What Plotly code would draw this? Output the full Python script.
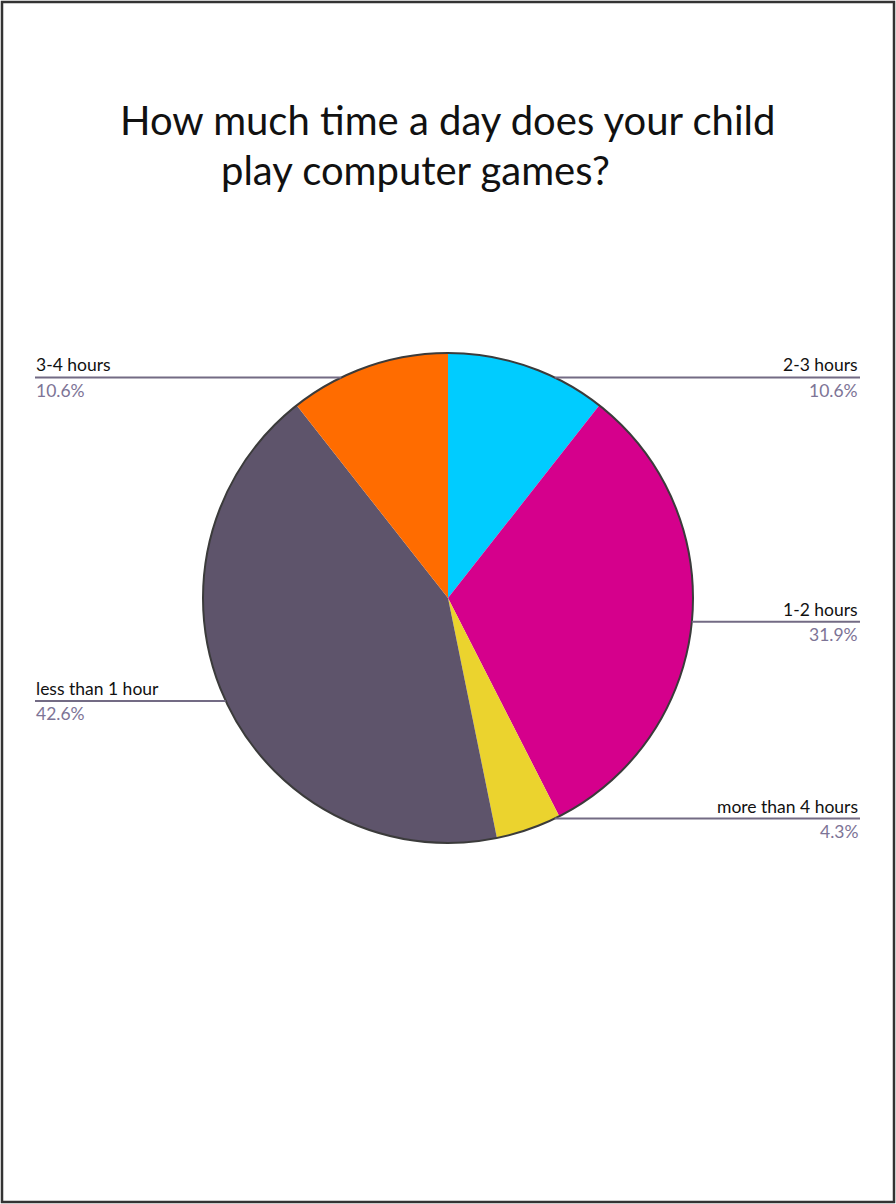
import math
import plotly.graph_objects as go

# ---- data ----
categories = ["2-3 hours", "1-2 hours", "more than 4 hours", "less than 1 hour", "3-4 hours"]
values = [10.6, 31.9, 4.3, 42.6, 10.6]
pct_labels = ["10.6%", "31.9%", "4.3%", "42.6%", "10.6%"]
colors = ["#00CCFF", "#D5008C", "#EBD32E", "#5E546B", "#FF6C00"]
title_lines = ["How much time a day does your child", "play computer games?"]

# ---- layout constants (pixels) ----
W, H = 896, 1204
cx, cy, r = 448, 598, 245
left_x, right_x = 35, 860
FONT = "Lato, 'Noto Sans', sans-serif"
LINE_COLOR = "#736b84"
PCT_COLOR = "#7d7496"

def px(x):
    return x / W

def py(y):
    return 1 - y / H

fig = go.Figure(go.Pie(
    labels=categories,
    values=values,
    sort=False,
    direction="clockwise",
    rotation=0,
    marker=dict(colors=colors, line=dict(width=0)),
    textinfo="none",
    hoverinfo="label+percent",
    showlegend=False,
    domain=dict(x=[px(cx - r), px(cx + r)], y=[py(cy + r), py(cy - r)]),
))

shapes = []
annotations = []

# outline circle around pie
shapes.append(dict(type="circle", xref="paper", yref="paper",
                   x0=px(cx - r), x1=px(cx + r), y0=py(cy + r), y1=py(cy - r),
                   line=dict(color="#3b3b3b", width=2)))

# leader lines and labels computed from slice mid-angles
total = sum(values)
cum = 0.0
for cat, v, pl in zip(categories, values, pct_labels):
    mid = (cum + v / 2) / total
    cum += v
    ang = 2 * math.pi * mid  # clockwise from 12 o'clock
    sx = math.sin(ang)
    dy = -math.cos(ang) * r
    lim = 0.9 * r
    dy = max(-lim, min(lim, dy))
    ly = cy + dy
    dx = math.sqrt(max(r * r - dy * dy, 0))
    if sx >= 0:
        x_edge = cx + dx
        x_end = right_x
        xanchor = "right"
        tx = right_x - 1
    else:
        x_edge = cx - dx
        x_end = left_x
        xanchor = "left"
        tx = left_x
    shapes.append(dict(type="line", xref="paper", yref="paper",
                       x0=px(x_edge), x1=px(x_end), y0=py(ly), y1=py(ly),
                       line=dict(color=LINE_COLOR, width=2)))
    annotations.append(dict(xref="paper", yref="paper", x=px(tx), y=py(ly - 1),
                            text=cat, showarrow=False, xanchor=xanchor, yanchor="bottom",
                            font=dict(family=FONT, size=17.5, color="#111111"),
                            borderpad=0))
    annotations.append(dict(xref="paper", yref="paper", x=px(tx), y=py(ly + 1),
                            text=pl, showarrow=False, xanchor=xanchor, yanchor="top",
                            font=dict(family=FONT, size=17.5, color=PCT_COLOR),
                            borderpad=0))

# title
annotations.append(dict(xref="paper", yref="paper", x=px(447), y=py(145),
                        text=title_lines[0], showarrow=False, xanchor="center", yanchor="bottom",
                        font=dict(family=FONT, size=40, color="#111111"), borderpad=0))
annotations.append(dict(xref="paper", yref="paper", x=px(415), y=py(195),
                        text=title_lines[1], showarrow=False, xanchor="center", yanchor="bottom",
                        font=dict(family=FONT, size=40, color="#111111"), borderpad=0))

# page border
shapes.append(dict(type="rect", xref="paper", yref="paper",
                   x0=px(2), x1=px(894), y0=py(1202), y1=py(2),
                   line=dict(color="#333333", width=2.5)))

fig.update_layout(
    width=W, height=H,
    margin=dict(l=0, r=0, t=0, b=0),
    paper_bgcolor="white",
    plot_bgcolor="white",
    shapes=shapes,
    annotations=annotations,
)

fig.write_html("out.html",
               config={"displayModeBar": False},
               post_script="document.body.style.margin='0';document.body.style.overflow='hidden';")
